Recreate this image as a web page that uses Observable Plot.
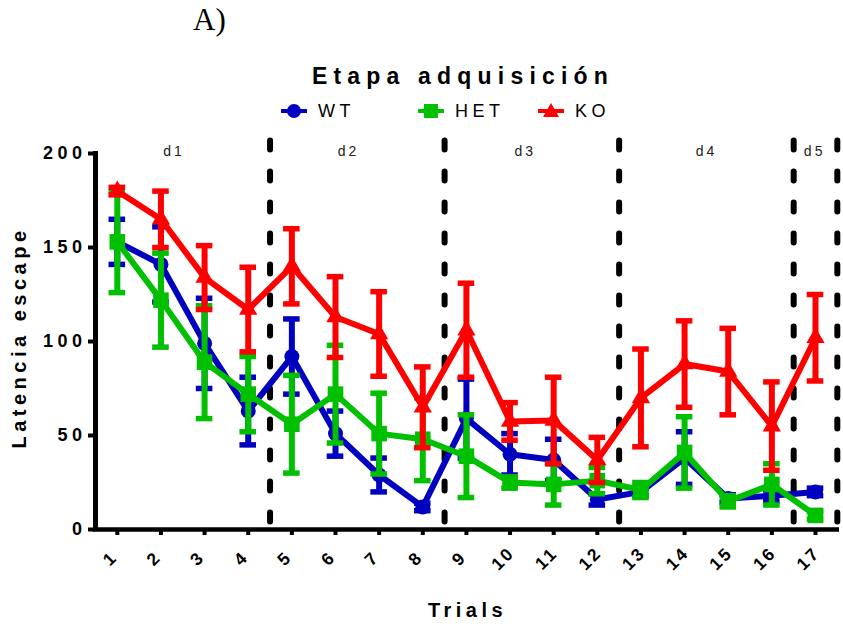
<!DOCTYPE html>
<html>
<head>
<meta charset="utf-8">
<script src="https://cdn.jsdelivr.net/npm/d3@7"></script>
<script src="https://cdn.jsdelivr.net/npm/@observablehq/plot@0.6"></script>
<style>
  body { margin: 0; background: #fff; }
  #wrap { width: 843px; height: 626px; position: relative; overflow: hidden; background: #fff;
          font-family: "Liberation Sans", Arial, Helvetica, sans-serif; }
  #header { position: relative; width: 843px; height: 120px; }
  #panel { position: absolute; left: 193px; top: 1px; font: 31px "Liberation Serif", "Times New Roman", serif; color: #000; line-height: 38px; }
  #title { position: absolute; left: 463px; top: 63px; transform: translateX(-50%); white-space: nowrap;
           font-weight: bold; font-size: 23px; letter-spacing: 6.2px; line-height: 26px; color: #000; }
  .leg { position: absolute; top: 101px; height: 20px; display: flex; align-items: center; white-space: nowrap; }
  .leg span { font-size: 18px; letter-spacing: 4.5px; color: #000; margin-left: 11px; }
  #chart svg { display: block; }
  g[aria-label="y-axis tick label"] text { font-weight: bold; font-size: 18px; letter-spacing: 4.5px; }
  g[aria-label="y-axis tick"] { stroke-width: 4px; }
  g[aria-label="x-axis tick"] { stroke-width: 4px; }
</style>
</head>
<body>
<div id="wrap">
  <div id="header">
    <div id="panel">A)</div>
    <div id="title">Etapa adquisición</div>
  </div>
  <div id="chart"></div>
</div>
<script>
// ---- data ----
const trials = [1, 2, 3, 4, 5, 6, 7, 8, 9, 10, 11, 12, 13, 14, 15, 16, 17];
const seriesNames = ["WT", "HET", "KO"];
const wtMean  = [153, 141, 99, 63, 92, 51, 29, 12, 59, 40, 37, 16, 20, 38, 16.5, 18, 20];
const wtErr   = [12, 20, 24, 18, 20, 12, 9, 2, 21, 11, 11, 3, 2, 14, 2, 3, 2];
const hetMean = [153, 122, 89, 72, 56, 72, 51, 48, 39, 25, 24, 26, 21, 41, 15, 24, 7.5];
const hetErr  = [27, 25, 30, 20, 26, 26, 21.5, 22, 22, 3, 11, 7, 4, 19, 3, 11, 2];
const koMean  = [180, 165, 134, 117, 140, 113, 104, 65, 106, 57.5, 58, 37, 70, 88, 84, 55, 102];
const koErr   = [2, 15, 17, 22.5, 20, 21.5, 22.5, 21.5, 25, 10, 23, 12, 26, 23, 23, 23.5, 23];
const dividers = [4.5, 8.5, 12.5, 16.5, 17.5];
const dayLabels = ["d1", "d2", "d3", "d4", "d5"];
const dayX = [2.3, 6.3, 10.35, 14.5, 16.98];
const yTicks = [0, 50, 100, 150, 200];
const yTitle = "Latencia escape";
const xTitle = "Trials";

// ---- styling ----
const colors = { WT: "#0000c0", HET: "#00c000", KO: "#ff0000" };
const symbols = { WT: "circle", HET: "square", KO: "triangle" };
const radii = { WT: 7.5, HET: 8.8, KO: 6.8 };

const means = { WT: wtMean, HET: hetMean, KO: koMean };
const errs = { WT: wtErr, HET: hetErr, KO: koErr };
const rows = {};
for (const s of seriesNames) rows[s] = trials.map((t, i) => ({ trial: t, series: s, mean: means[s][i], err: errs[s][i] }));

// ---- legend ----
const header = document.getElementById("header");
const legLeft = { WT: 281, HET: 418, KO: 538 };
for (const s of seriesNames) {
  const div = document.createElement("div");
  div.className = "leg";
  div.style.left = legLeft[s] + "px";
  const c = colors[s];
  let m;
  if (s === "WT") m = `<circle cx="13" cy="10" r="7" fill="${c}"/>`;
  else if (s === "HET") m = `<rect x="6" y="3" width="14" height="14" fill="${c}"/>`;
  else m = `<path d="M13,2 L21,16 L5,16 Z" fill="${c}"/>`;
  div.innerHTML = `<svg width="26" height="20"><line x1="0" x2="26" y1="10" y2="10" stroke="${c}" stroke-width="4"/>${m}</svg><span>${s}</span>`;
  header.appendChild(div);
}

// ---- chart ----
const marks = [
  Plot.ruleX(dividers, { x: d => d, y1: 4, y2: 213, stroke: "#000", strokeWidth: 6, strokeDasharray: "9,22", strokeLinecap: "round" }),
  Plot.text(dayLabels, { x: (d, i) => dayX[i], y: 201, text: d => d, fontSize: 14, fill: "#222" }),
  Plot.ruleX([0.5], { x: d => d, y1: 0, y2: 201, stroke: "#000", strokeWidth: 5 }),
  Plot.ruleY([0], { y: d => d, x1: 0.45, x2: 17.55, stroke: "#000", strokeWidth: 4.5 }),
  Plot.axisY(yTicks, { tickSize: 7, tickPadding: 2, strokeWidth: 4, fontSize: 18, fontWeight: "bold", label: null }),
  Plot.axisX(trials, { tickSize: 6, strokeWidth: 4, tickFormat: () => "", label: null }),
  Plot.text(trials, { x: d => d, frameAnchor: "bottom", dy: 33, dx: -3, rotate: -45, text: d => String(d), fontSize: 17.5, fontWeight: "bold" }),
  Plot.text([yTitle], { frameAnchor: "left", textAnchor: "middle", dx: -76, dy: -4, rotate: -90, text: d => d, fontSize: 20, fontWeight: "bold" }),
  Plot.text([xTitle], { frameAnchor: "bottom", textAnchor: "middle", dy: 87, text: d => d, fontSize: 20, fontWeight: "bold" })
];
for (const s of seriesNames) {
  const c = colors[s];
  marks.push(
    Plot.ruleX(rows[s], { x: "trial", y1: d => d.mean - d.err, y2: d => d.mean + d.err, stroke: c, strokeWidth: 6 }),
    Plot.ruleY(rows[s], { y: d => d.mean + d.err, x1: d => d.trial - 0.19, x2: d => d.trial + 0.19, stroke: c, strokeWidth: 5.5 }),
    Plot.ruleY(rows[s], { y: d => d.mean - d.err, x1: d => d.trial - 0.19, x2: d => d.trial + 0.19, stroke: c, strokeWidth: 5.5 }),
    Plot.line(rows[s], { x: "trial", y: "mean", stroke: c, strokeWidth: 6 }),
    Plot.dot(rows[s], { x: "trial", y: "mean", symbol: symbols[s], r: radii[s], fill: c, stroke: "none" })
  );
}

const chart = Plot.plot({
  width: 843,
  height: 506,
  marginTop: 33,
  marginLeft: 95,
  marginRight: 4,
  marginBottom: 97,
  x: { domain: [0.5, 17.55] },
  y: { domain: [0, 200] },
  style: { fontFamily: "'Liberation Sans', Arial, Helvetica, sans-serif", background: "white", color: "#000", overflow: "visible" },
  marks
});
document.getElementById("chart").appendChild(chart);

// letter spacing for the GraphPad-like spaced labels
const trialStr = new Set(trials.map(String));
const daySet = new Set(dayLabels);
chart.querySelectorAll("text").forEach(t => {
  const s = t.textContent;
  if (s === yTitle || s === xTitle) t.style.letterSpacing = "4.5px";
  else if (daySet.has(s)) t.style.letterSpacing = "3px";
  else if (trialStr.has(s)) t.style.letterSpacing = "2.5px";
});
</script>
</body>
</html>
